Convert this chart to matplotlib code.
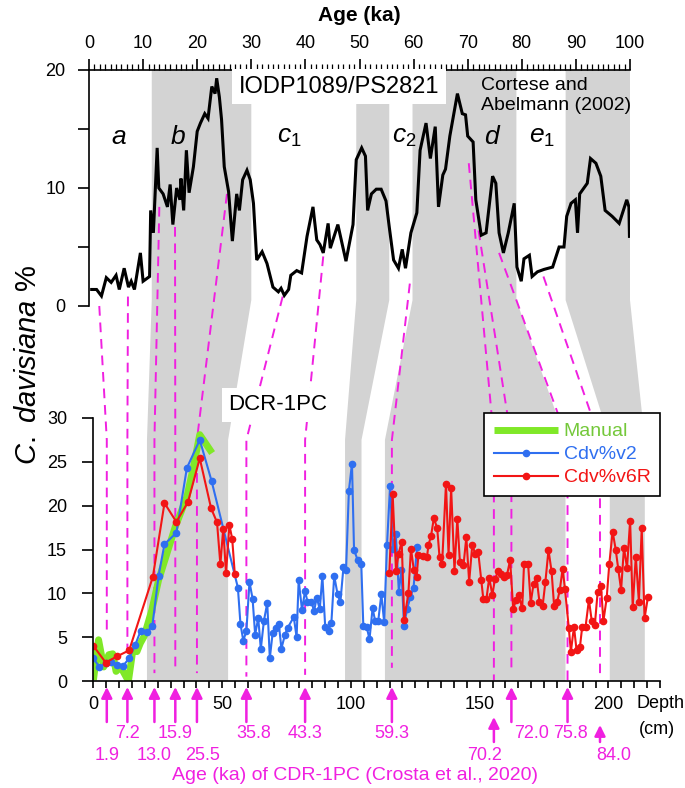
import matplotlib
matplotlib.use('Agg')
import matplotlib.pyplot as plt
from matplotlib.patches import Polygon

plt.rcParams['font.family'] = ['Liberation Sans', 'DejaVu Sans']
plt.rcParams['mathtext.fontset'] = 'custom'
plt.rcParams['mathtext.it'] = 'Liberation Sans:italic'
plt.rcParams['mathtext.rm'] = 'Liberation Sans'

# IODP1089/PS2821 (Cortese and Abelmann 2002): age (ka) vs C. davisiana %
top_age = [0.5, 1.4, 2.3, 3.2, 4.1, 5.0, 5.6, 6.5, 7.3, 7.8,
           8.4, 9.5, 10.0, 11.2, 11.4, 11.9, 12.6, 12.9, 13.7, 14.5,
           15.0, 15.5, 16.2, 16.8, 17.0, 17.5, 18.0, 18.5, 19.3, 20.0,
           20.6, 21.4, 22.0, 22.7, 23.3, 23.6, 24.1, 24.5, 25.0, 25.8,
           26.5, 27.3, 27.8, 28.4, 29.2, 29.8, 30.4, 31.0, 32.0, 32.9,
           34.0, 35.0, 35.5, 36.1, 36.9, 37.3, 38.4, 39.3, 40.3, 41.4,
           42.1, 42.7, 43.3, 44.2, 44.6, 46.0, 47.5, 48.8, 49.4, 50.4,
           51.1, 51.5, 52.2, 53.1, 54.0, 54.9, 55.5, 56.3, 57.2, 57.9,
           58.5, 59.5, 60.6, 61.2, 62.3, 63.1, 64.0, 64.6, 65.4, 65.9,
           66.7, 68.1, 69.0, 69.6, 70.0, 71.0, 71.5, 72.5, 73.4, 74.6,
           75.2, 75.8, 76.6, 77.5, 78.6, 79.1, 79.9, 80.4, 81.4, 81.9,
           82.9, 84.1, 85.7, 86.9, 87.8, 88.3, 89.1, 89.9, 90.3, 90.7,
           92.1, 92.7, 93.7, 94.6, 95.4, 96.7, 98.0, 99.4, 99.8, 99.9]
top_val = [1.4, 1.4, 0.85, 2.4, 2.0, 2.6, 1.4, 3.2, 1.6, 2.1,
           1.4, 4.5, 2.1, 2.5, 8.1, 6.2, 13.4, 10.0, 9.5, 8.4,
           10.3, 6.9, 10.0, 9.0, 10.8, 8.1, 13.2, 9.6, 11.8, 14.8,
           15.5, 16.3, 15.9, 18.6, 18.0, 19.3, 17.7, 15.8, 11.8, 9.7,
           5.5, 9.5, 8.1, 10.7, 11.5, 10.7, 8.7, 3.9, 4.6, 3.6,
           1.6, 1.2, 1.5, 0.9, 1.4, 2.6, 3.0, 2.8, 5.9, 8.4,
           5.6, 5.2, 4.5, 7.0, 4.9, 6.9, 3.8, 6.9, 12.4, 13.4,
           12.7, 8.1, 9.5, 9.9, 9.9, 8.9, 6.7, 3.9, 3.2, 4.8,
           3.2, 6.2, 7.9, 13.2, 15.5, 12.5, 15.2, 8.4, 11.1, 11.6,
           14.4, 18.0, 16.3, 16.2, 14.4, 13.9, 9.0, 6.0, 6.2, 11.0,
           10.4, 6.2, 4.5, 6.2, 8.7, 3.3, 2.1, 4.0, 4.3, 2.5,
           2.9, 3.1, 3.3, 5.0, 5.0, 7.6, 8.7, 9.0, 6.2, 9.5,
           10.4, 12.5, 12.1, 11.0, 8.1, 7.6, 7.0, 9.0, 8.4, 5.9]

# DCR-1PC: depth (cm) vs C. davisiana %
manual_depth = [0.0, 2.0, 4.0, 6.0, 7.5, 8.8, 10.6, 13.6, 15.3, 16.9,
                18.2, 19.7, 22.7, 25.3, 28.6, 31.8, 36.3, 38.9, 41.3, 46.1]
manual_val = [0.1, 4.7, 1.6, 3.0, 3.1, 1.1, 1.6, 0.0, 3.5, 3.35,
              4.3, 5.1, 8.1, 11.5, 14.6, 17.6, 21.0, 24.5, 28.1, 26.0]

v2_depth = [0.0, 2.3, 4.9, 6.9, 9.3, 11.6, 13.9, 16.2, 18.4, 20.8,
            22.9, 25.3, 27.6, 32.2, 36.3, 41.3, 45.9, 56.1, 57.1, 58.2,
            59.4, 60.6, 61.8, 62.8, 64.0, 65.0, 66.2, 67.5, 68.5, 69.6,
            70.9, 72.0, 73.0, 74.4, 75.5, 77.8, 78.9, 79.7, 81.0, 82.2,
            83.1, 84.6, 85.7, 86.7, 87.9, 88.9, 90.0, 91.3, 92.4, 93.5,
            94.8, 95.9, 97.1, 98.1, 99.2, 100.4, 101.2, 102.6, 104.0, 104.8,
            106.1, 107.2, 108.4, 109.4, 110.6, 111.8, 112.9, 114.0, 115.2, 116.3,
            117.4, 118.6, 119.6, 120.6, 121.8, 123.1, 124.3, 125.7]
v2_val = [2.6, 1.6, 2.0, 2.2, 1.8, 1.75, 2.6, 4.1, 5.75, 5.55,
          6.3, 12.0, 15.6, 16.9, 24.3, 27.5, 22.8, 10.65, 6.5, 4.6,
          5.7, 11.3, 9.4, 5.3, 7.2, 3.65, 6.85, 8.9, 2.6, 5.5,
          6.1, 6.5, 3.7, 5.3, 6.1, 7.3, 5.0, 11.5, 8.1, 10.3,
          9.05, 9.05, 8.0, 9.5, 8.2, 12.0, 6.2, 5.75, 6.65, 12.0,
          9.9, 9.0, 13.0, 12.7, 21.7, 24.8, 14.95, 13.8, 13.4, 6.3,
          6.2, 4.75, 8.3, 6.85, 6.85, 9.9, 6.7, 15.5, 22.3, 15.1,
          16.8, 10.2, 12.7, 6.3, 8.2, 9.6, 10.65, 15.3]

v6r_depth_a = [0.0, 4.8, 9.1, 13.9, 23.1, 27.6, 32.2, 36.7, 41.3, 45.7,
               48.0, 49.3, 50.4, 51.5, 52.8, 53.9, 54.9]
v6r_val_a = [4.0, 2.1, 2.8, 3.5, 11.9, 20.3, 18.15, 20.4, 25.4, 19.7,
             18.1, 13.3, 17.35, 12.3, 17.8, 16.2, 12.2]
v6r_depth_b = [114.9, 116.2, 117.5, 118.5, 119.7, 120.7, 122.3, 123.3, 124.4, 125.5,
               126.2, 127.9, 129.5, 130.1, 131.1, 132.2, 133.5, 134.4, 135.4, 136.9,
               137.9, 138.9, 140.2, 141.3, 142.3, 143.7, 144.8, 145.9, 147.1, 148.3,
               149.4, 150.6, 151.4, 152.6, 153.7, 154.9, 155.9, 157.1, 158.4, 159.4,
               160.6, 161.8, 163.0, 164.1, 165.1, 166.5, 167.2, 168.8, 169.8, 170.9,
               172.1, 173.2, 174.4, 175.5, 176.7, 177.9, 178.9, 180.1, 181.1, 182.2,
               183.1, 184.6, 185.4, 186.6, 187.6, 188.9, 189.8, 191.1, 192.4, 193.5,
               194.7, 195.8, 197.1, 198.0, 199.3, 200.3, 201.6, 202.8, 203.8, 204.9,
               206.0, 207.2, 208.4, 209.4, 210.6, 211.8, 212.9, 214.0, 215.3]
v6r_val_b = [12.3, 21.3, 12.5, 14.5, 15.9, 7.0, 10.0, 15.1, 12.7, 11.9,
             14.4, 14.3, 14.1, 15.5, 16.55, 18.6, 17.4, 14.1, 13.4, 22.5,
             14.4, 22.0, 12.6, 18.5, 13.6, 13.2, 16.4, 11.3, 15.5, 14.5,
             14.75, 11.5, 9.35, 9.35, 11.8, 9.8, 11.6, 12.5, 12.2, 11.9,
             12.1, 13.8, 8.2, 9.25, 9.8, 8.3, 13.3, 13.3, 8.9, 11.1,
             11.7, 9.0, 8.5, 11.3, 14.95, 12.5, 8.5, 9.05, 10.4, 12.8,
             10.5, 6.0, 3.35, 6.2, 3.5, 3.85, 6.2, 6.2, 9.25, 6.85,
             6.4, 10.2, 10.85, 6.8, 9.45, 13.3, 17.05, 15.0, 12.75, 10.4,
             15.2, 12.9, 18.3, 8.4, 14.2, 9.05, 17.4, 7.15, 9.55]

# correlated intervals: age range in IODP1089 <-> depth range in DCR-1PC
band_age = [(11.6, 30.0), (49.4, 55.5), (59.8, 79.0), (88.1, 100.0)]
band_depth = [(20.8, 52.3), (97.7, 104.1), (113.2, 183.3), (200.5, 214.1)]

# tie points: Crosta et al. (2020) ages and their depths in DCR-1PC
tie_age = [1.9, 7.2, 13.0, 15.9, 25.5, 35.8, 43.3, 59.3, 70.2, 72.0, 75.8, 84.0]
tie_depth = [5.2, 13.2, 23.7, 31.8, 40.2, 59.4, 82.2, 115.9, 155.5, 162.3, 184.1, 196.7]
tie_top = [0.0, 0.8, 8.4, 6.7, 9.5, 0.8, 4.2, 1.9, 12.1, 6.4, 4.5, 2.5]
tie_bot = [5.3, 2.7, 0.9, 0.9, 0.9, 0.5, 0.7, 1.5, 0.1, 0.9, 0.1, 0.9]
tie_label = ['1.9', '7.2', '13.0', '15.9', '25.5', '35.8', '43.3', '59.3',
             '70.2', '72.0', '75.8', '84.0']
tie_row = [2, 1, 2, 1, 2, 1, 1, 1, 2, 1, 1, 2]
label_shift = [0, 0, 0, 0, 6, 7, 0, 0, -9, 20, 3, 14]

stage_names = ['$a$', '$b$', '$c_1$', '$c_2$', '$d$', '$e_1$']
stage_age = [5.6, 16.5, 37.1, 58.3, 74.6, 83.8]

GRAY = '#d3d3d3'
MAG = '#f020e0'
BLUE = '#2f6ff0'
RED = '#f21515'
GREEN = '#80e828'

W, H = 685, 788
fig = plt.figure(figsize=(W / 100, H / 100), dpi=100)


def rect(x0, y0, x1, y1):
    return [x0 / W, 1 - y1 / H, (x1 - x0) / W, (y1 - y0) / H]


ax_top = fig.add_axes(rect(89, 70, 630, 306))
ax_bot = fig.add_axes(rect(93.4, 418, 660, 681))
ax_ov = fig.add_axes([0, 0, 1, 1], zorder=-1)
ax_ov.set_axis_off()
for ax in (ax_top, ax_bot):
    ax.set_facecolor('none')

ax_top.set_xlim(0, 100)
ax_top.set_ylim(0, 20)
ax_bot.set_xlim(0, 220)
ax_bot.set_ylim(0, 30)

to_fig = fig.transFigure.inverted()


def pt(ax, x, y):
    return to_fig.transform(ax.transData.transform((x, y)))


BRK_TOP = 0.5    # value in top panel where connectors leave
BRK_BOT = 27.5   # value in bottom panel where connectors arrive

# gray correlation bands
for (a0, a1), (d0, d1) in zip(band_age, band_depth):
    verts = [pt(ax_top, a0, 20), pt(ax_top, a0, BRK_TOP), pt(ax_bot, d0, BRK_BOT),
             pt(ax_bot, d0, 0), pt(ax_bot, d1, 0), pt(ax_bot, d1, BRK_BOT),
             pt(ax_top, a1, BRK_TOP), pt(ax_top, a1, 20)]
    ax_ov.add_patch(Polygon(verts, closed=True, facecolor=GRAY, edgecolor='none',
                            transform=ax_ov.transAxes))

# dashed tie lines
for a, d, t, b in zip(tie_age, tie_depth, tie_top, tie_bot):
    p = [pt(ax_top, a, t), pt(ax_bot, d, BRK_BOT), pt(ax_bot, d, b)]
    ax_ov.plot([q[0] for q in p], [q[1] for q in p], color=MAG, lw=1.4,
               dashes=(5, 3.5), transform=ax_ov.transAxes)

# top panel
ax_top.plot(top_age, top_val, color='black', lw=2.2, solid_joinstyle='miter')
ax_top.xaxis.tick_top()
ax_top.xaxis.set_label_position('top')
ax_top.spines[['bottom', 'right']].set_visible(False)
ax_top.set_xticks(range(0, 101, 10))
ax_top.set_xticks(range(0, 101, 1), minor=True)
ax_top.set_yticks([0, 5, 10, 15, 20])
ax_top.set_yticklabels(['0', '', '10', '', '20'])
ax_top.tick_params(axis='x', which='major', length=8, width=1.2, pad=5, labelsize=13)
ax_top.tick_params(axis='x', which='minor', length=4.5, width=0.9)
ax_top.tick_params(axis='y', length=8, width=1.2, pad=9, labelsize=13)
ax_top.set_xlabel('Age (ka)', fontsize=15, fontweight='bold', labelpad=10)
for s in ax_top.spines.values():
    s.set_linewidth(1.2)

for name, a in zip(stage_names, stage_age):
    ax_top.text(a, 14.3, name, fontsize=19, ha='center', va='center')
ax_top.text(46.2, 18.6, 'IODP1089/PS2821', fontsize=17, ha='center', va='center',
            bbox=dict(facecolor='white', edgecolor='none', pad=5))
ax_top.text(72.4, 17.85, 'Cortese and\nAbelmann (2002)', fontsize=14, ha='left',
            va='center', linespacing=1.2)

# bottom panel
ax_bot.plot(manual_depth, manual_val, color=GREEN, lw=5, label='Manual',
            solid_capstyle='butt')
ax_bot.plot(v2_depth, v2_val, color=BLUE, lw=1.5, marker='o', ms=4.5, label='Cdv%v2')
ax_bot.plot(v6r_depth_a, v6r_val_a, color=RED, lw=1.5, marker='o', ms=4.5, label='Cdv%v6R')
ax_bot.plot(v6r_depth_b, v6r_val_b, color=RED, lw=1.5, marker='o', ms=4.5)
ax_bot.spines[['top', 'right']].set_visible(False)
ax_bot.set_xticks(range(0, 221, 5))
ax_bot.set_xticklabels([str(v) if v % 50 == 0 else '' for v in range(0, 221, 5)])
ax_bot.set_yticks(range(0, 31, 5))
ax_bot.tick_params(axis='x', length=5, width=1.2, pad=6, labelsize=13)
ax_bot.tick_params(axis='y', length=8, width=1.2, pad=11, labelsize=13)
for s in ax_bot.spines.values():
    s.set_linewidth(1.2)

leg = ax_bot.legend(loc='upper left', bbox_to_anchor=(484 / W, 1 - 413 / H),
                    bbox_transform=fig.transFigure, borderaxespad=0, fontsize=14,
                    handlelength=3.3, handletextpad=0.3, labelspacing=0.28,
                    fancybox=False, edgecolor='black', framealpha=1,
                    borderpad=0.5)
leg.get_frame().set_linewidth(1.2)
for txt, col in zip(leg.get_texts(), ['#74c83a', BLUE, RED]):
    txt.set_color(col)

fig.text(278 / W, 1 - 405 / H, 'DCR-1PC', fontsize=16, ha='center', va='center',
         bbox=dict(facecolor='white', edgecolor='none', pad=5))
fig.text(637 / W, 1 - 704 / H, 'Depth', fontsize=13, ha='left', va='center')
fig.text(657 / W, 1 - 729 / H, '(cm)', fontsize=13, ha='center', va='center')
fig.text(28 / W, 1 - 365 / H, r'$\mathit{C.\ davisiana}$ %', fontsize=21,
         rotation=90, ha='center', va='center')

# arrows and ages below depth axis
for d, lab, row, sh in zip(tie_depth, tie_label, tie_row, label_shift):
    low = lab in ('70.2', '84.0')
    y_head = 1 - (717 if lab == '70.2' else 725 if lab == '84.0' else 687) / H
    y_tail = 1 - (742 if low else 722) / H
    ax_bot.annotate('', xy=(d, y_head), xytext=(d, y_tail),
                    xycoords=('data', 'figure fraction'),
                    textcoords=('data', 'figure fraction'),
                    arrowprops=dict(arrowstyle='-|>', color=MAG, lw=1.8,
                                    mutation_scale=16, shrinkA=0, shrinkB=0))
    x_px = ax_bot.transData.transform((d, 0))[0] + sh
    y_lab = 733 if row == 1 else 756
    fig.text(x_px / W, 1 - y_lab / H, lab, color=MAG, fontsize=13,
             ha='center', va='center')

fig.text(355 / W, 1 - 775 / H, 'Age (ka) of CDR-1PC (Crosta et al., 2020)',
         color=MAG, fontsize=14, ha='center', va='center')

fig.savefig('out.png', dpi=100, facecolor='white')
